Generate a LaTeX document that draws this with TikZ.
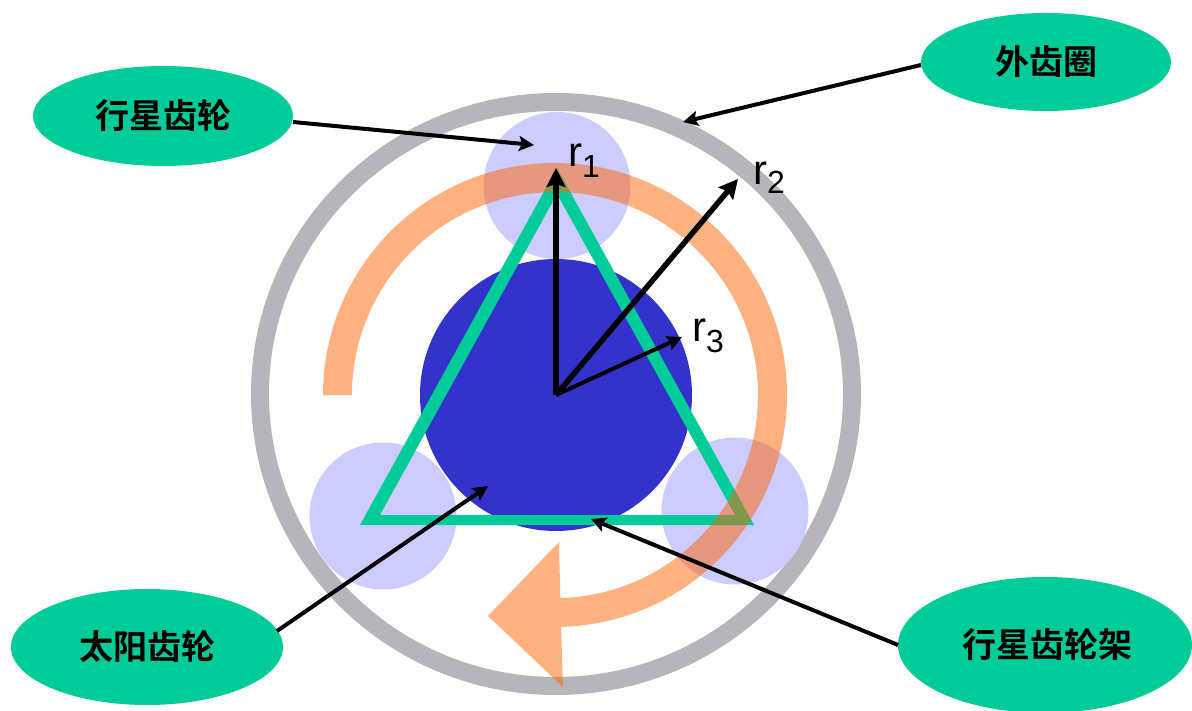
\documentclass[tikz,border=0pt]{standalone}
\usepackage{fontspec}
\setmainfont{Liberation Sans}
\newfontfamily\cjk{Noto Sans CJK SC}[BoldFont={Noto Sans CJK SC Bold}]
\usetikzlibrary{shapes.geometric,arrows.meta}
\definecolor{teal}{HTML}{00CC99}
\definecolor{ringgray}{HTML}{B5B5BB}
\definecolor{sunblue}{HTML}{3333CC}
\definecolor{planet}{HTML}{CCCCFF}
\definecolor{flow}{HTML}{FF6600}
\newcommand{\calltext}[1]{\raisebox{-3.5pt}{#1}}
\tikzset{
  callout/.style={ellipse,fill=teal,inner sep=0pt,outer sep=0pt,font=\cjk\bfseries\fontsize{34}{34}\selectfont,text=black},
  pointer/.style={draw=black,line width=4pt,-{Stealth[length=15pt,width=15pt,inset=3pt]}},
  radiusarrow/.style={draw=black,line width=5.5pt,-{Stealth[length=19pt,width=19pt,inset=3pt]}},
  rlabel/.style={inner sep=0pt,font=\fontsize{42}{42}\selectfont,text=black},
  planetdisc/.style={circle,fill=planet,inner sep=0pt,minimum size=147pt},
  flowpart/.style={fill=flow,opacity=.5}
}
\begin{document}
\begin{tikzpicture}[x=1pt,y=-1pt]
\useasboundingbox (0,0) rectangle (1192,711);
\fill[white] (0,0) rectangle (1192,711);
\coordinate (c) at (556,395);
% ring
\draw[ringgray,line width=18pt] (556,394) ellipse[x radius=296,y radius=292];
% planets
\node[planetdisc] (p1) at (557,185.5) {};
\node[planetdisc] (p2) at (383,516) {};
\node[planetdisc] (p3) at (735,511) {};
% sun
\node[circle,fill=sunblue,inner sep=0pt,minimum size=272pt] (sun) at (556,395) {};
% carrier
\fill[teal,even odd rule] (557,168) -- (360,525) -- (754,525) -- cycle
  (557,194) -- (380,515) -- (735,515) -- cycle;
% rotation arrow
\fill[flowpart] (323,395) arc[start angle=180,end angle=448.5,radius=232]
  -- (563,687) -- (488,616) -- (559,542) -- (560.3,598)
  arc[start angle=448.5,end angle=180,radius=203] -- cycle;
% callouts
\node[callout,minimum width=260pt,minimum height=100pt] (pg) at (163,116) {\calltext{行星齿轮}};
\node[callout,minimum width=250pt,minimum height=98pt] (rg) at (1046,62) {\calltext{外齿圈}};
\node[callout,minimum width=272pt,minimum height=116pt] (sg) at (147,647) {\calltext{太阳齿轮}};
\node[callout,minimum width=294pt,minimum height=136pt] (cg) at (1045,645) {\hspace*{4pt}\calltext{行星齿轮架}};
% targets
\coordinate (tp) at (534,145);
\coordinate (tr) at (683,122);
\coordinate (ts) at (488,486);
\coordinate (tc) at (591,519);
\coordinate (r1) at (556,168);
\coordinate (r2) at (738,179);
\coordinate (r3) at (682,337);
\draw[pointer] (pg.east) ++(0,6) -- (tp);
\draw[pointer] (rg.west) ++(0,3) -- (tr);
\draw[pointer] (sg.east) ++(-6,-16) -- (ts);
\draw[pointer] (cg.west) -- (tc);
\draw[radiusarrow] (c) -- (r1);
\draw[radiusarrow] (c) -- (r2);
\draw[pointer] (c) -- (r3);
\node[rlabel,anchor=base west] (l1) at (568,167) {r};
\node[rlabel,anchor=base west,font=\fontsize{32}{32}\selectfont] (s1) at (582,178) {1};
\node[rlabel,anchor=base west] (l2) at (753,185) {r};
\node[rlabel,anchor=base west,font=\fontsize{32}{32}\selectfont] (s2) at (767,194) {2};
\node[rlabel,anchor=base west] (l3) at (692,342) {r};
\node[rlabel,anchor=base west,font=\fontsize{32}{32}\selectfont] (s3) at (706,353) {3};
\end{tikzpicture}
\end{document}
